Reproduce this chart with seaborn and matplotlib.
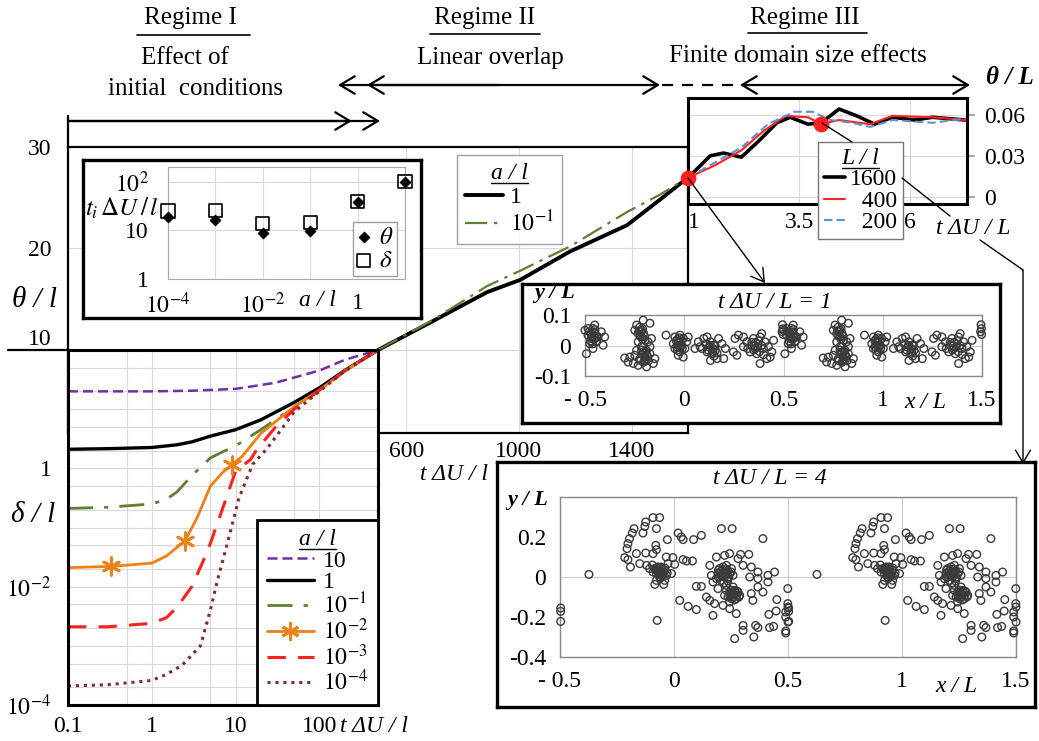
import matplotlib
matplotlib.use("Agg")
import matplotlib.pyplot as plt
from matplotlib.lines import Line2D
from matplotlib.patches import FancyArrowPatch
from matplotlib.ticker import FixedLocator, NullFormatter
import numpy as np
import seaborn as sns

W, H = 1039, 741

# ---------------------------------------------------------------------------
# Data
# ---------------------------------------------------------------------------

# delta/l against t dU/l (log-log panel), one curve per a/l
t_a10 = [0.1, 0.3, 1, 3, 10, 30, 100, 200, 500]
d_a10 = [20, 20, 20, 20.5, 22, 28, 45, 68, 100]
t_a1 = [0.1, 0.3, 1, 2, 3, 5, 10, 20, 50, 100, 200, 500]
d_a1 = [2.1, 2.15, 2.25, 2.5, 2.8, 3.5, 4.5, 6.6, 13, 23, 45, 100]
t_a1m = [0.1, 0.3, 1, 1.5, 2, 3, 5, 7, 10, 20, 50, 100, 200, 500]
d_a1m = [0.21, 0.22, 0.25, 0.3, 0.4, 0.75, 1.5, 1.9, 2.4, 4.5, 11, 21, 44, 100]
t_a2m = [0.1, 0.33, 1, 1.5, 2.5, 3.5, 5, 7, 9, 12, 20, 50, 100, 200, 500]
d_a2m = [0.021, 0.022, 0.025, 0.033, 0.06, 0.15, 0.5, 0.85, 1.15, 1.6, 3.9, 11, 21, 44, 100]
t_a2m_marks = [0.33, 2.5, 9]
d_a2m_marks = [0.022, 0.06, 1.15]
t_a3m = [0.1, 0.3, 1, 1.5, 2, 3, 4, 5, 7, 10, 15, 18, 30, 50, 100, 200, 500]
d_a3m = [0.0021, 0.0021, 0.0024, 0.003, 0.0045, 0.010, 0.025, 0.054, 0.21, 0.9,
         1.4, 2.1, 5, 10, 21, 44, 100]
t_a4m = [0.1, 0.3, 1, 1.5, 2.3, 3, 3.8, 5, 6, 8, 11, 16, 24, 50, 100, 200, 500]
d_a4m = [2.1e-4, 2.2e-4, 2.6e-4, 3.3e-4, 4.7e-4, 7e-4, 1e-3, 4e-3, 0.012, 0.055,
         0.32, 1.17, 2.2, 9, 20, 44, 100]

# theta/l against t dU/l (linear panel)
t_theta = [500, 685, 887, 1004, 1181, 1384, 1500, 1600]
theta_a1 = [10, 12.7, 15.7, 16.9, 19.7, 22.3, 24.8, 27]
theta_a1m = [10, 12.8, 16.3, 17.8, 20.2, 23.6, 25.3, 27]

# theta/L against t dU/L for three domain sizes L/l
t_L1600 = [1, 1.5, 1.8, 2.2, 2.6, 3.0, 3.3, 3.7, 4.0, 4.4, 4.8, 5.2, 5.6, 6.1, 6.5, 7.25]
th_L1600 = [0.014, 0.030, 0.032, 0.029, 0.041, 0.054, 0.058, 0.053, 0.054, 0.064,
            0.059, 0.053, 0.058, 0.056, 0.058, 0.056]
t_L400 = [1, 1.6, 2.2, 2.7, 3.2, 3.7, 4.0, 4.4, 5.1, 5.6, 6.5, 7.25]
th_L400 = [0.014, 0.023, 0.034, 0.048, 0.059, 0.058, 0.053, 0.056, 0.053, 0.059, 0.058, 0.056]
t_L200 = [1, 1.6, 2.2, 2.8, 3.4, 3.8, 4.2, 4.7, 5.1, 5.6, 6.5, 7.25]
th_L200 = [0.014, 0.025, 0.036, 0.053, 0.062, 0.062, 0.056, 0.054, 0.051, 0.056, 0.054, 0.057]
marked_t = [1.0, 4.0]
marked_th = [0.014, 0.053]

# transition times t_i dU/l against a/l
a_over_l = [1e-4, 1e-3, 1e-2, 1e-1, 1, 10]
ti_theta = [19, 16, 8.9, 9.8, 39, 100]
ti_delta = [25, 26, 14, 14.5, 39, 100]

# particle positions (x/L, y/L) in one period, at t dU/L = 1
snap1 = [
    # cluster near x = -0.45
    (-0.5, 0.05), (-0.485, 0.034), (-0.468, 0.023), (-0.46, 0.056), (-0.451, 0.039),
    (-0.443, 0.012), (-0.476, 0.006), (-0.493, -0.027), (-0.434, 0.028), (-0.418, 0.045),
    (-0.401, 0.028), (-0.409, 0.001), (-0.451, 0.067), (-0.485, 0.056), (-0.46, -0.01),
    (-0.47, 0.04), (-0.455, 0.02), (-0.44, 0.03),
    (-0.465, 0.03), (-0.455, 0.045), (-0.448, 0.025), (-0.472, 0.015), (-0.462, 0.005),
    (-0.45, 0.052), (-0.478, 0.045), (-0.44, 0.015),
    (0.495, 0.068), (0.497, 0.055), (0.493, 0.045), (0.498, 0.036),
    # cluster near x = -0.2
    (-0.207, 0.083), (-0.173, 0.073), (-0.24, 0.067), (-0.249, 0.05), (-0.232, 0.039),
    (-0.215, 0.028), (-0.198, 0.017), (-0.182, 0.012), (-0.165, 0.023), (-0.232, 0.012),
    (-0.215, -0.004), (-0.19, -0.016), (-0.173, -0.027), (-0.198, -0.038), (-0.224, -0.043),
    (-0.249, -0.032), (-0.274, -0.038), (-0.3, -0.041), (-0.283, -0.054), (-0.257, -0.059),
    (-0.232, -0.065), (-0.19, -0.07), (-0.156, -0.059), (-0.148, -0.043), (-0.173, -0.004),
    (-0.207, -0.021), (-0.24, -0.016), (-0.22, 0.045), (-0.2, -0.05), (-0.21, 0.055),
    (-0.19, -0.03),
    (-0.225, 0.06), (-0.215, 0.05), (-0.205, 0.04), (-0.222, 0.03), (-0.21, 0.02),
    (-0.228, 0.048), (-0.2, 0.03), (-0.21, -0.03), (-0.195, -0.045), (-0.185, -0.035),
    (-0.205, -0.055), (-0.22, -0.05), (-0.18, -0.05), (-0.195, -0.02), (-0.215, -0.015),
    (-0.092, 0.034),
    # cluster near x = 0
    (-0.047, 0.028), (-0.022, 0.034), (-0.005, 0.023), (-0.03, 0.012), (-0.013, 0.001),
    (-0.038, -0.004), (0.003, -0.01), (-0.022, -0.021), (-0.055, 0.006), (0.012, 0.012),
    (0.02, 0.028), (-0.005, -0.038), (-0.03, -0.032), (-0.047, -0.01), (-0.02, 0.0),
    (-0.035, 0.02),
    (-0.03, 0.0), (-0.015, 0.015), (-0.04, 0.015), (-0.025, 0.025), (-0.01, -0.01),
    (-0.035, -0.015), (-0.02, -0.005),
    # cluster near x = 0.14
    (0.054, -0.01), (0.08, -0.004), (0.098, 0.023), (0.115, 0.028), (0.132, 0.012),
    (0.148, 0.001), (0.157, -0.016), (0.14, -0.027), (0.115, -0.021), (0.09, -0.01),
    (0.165, -0.043), (0.132, -0.049), (0.173, 0.023), (0.19, 0.006), (0.207, -0.01),
    (0.199, -0.043), (0.071, 0.012), (0.125, -0.005), (0.145, -0.01),
    (0.13, 0.0), (0.145, -0.02), (0.155, 0.0), (0.12, -0.015), (0.165, -0.025),
    (0.15, -0.035), (0.11, 0.005),
    # cluster near x = 0.37
    (0.256, 0.023), (0.273, 0.034), (0.298, 0.028), (0.315, 0.012), (0.34, 0.001),
    (0.357, -0.01), (0.349, 0.023), (0.382, 0.028), (0.39, 0.039), (0.407, 0.012),
    (0.424, -0.004), (0.441, -0.021), (0.433, -0.038), (0.416, -0.043), (0.382, -0.059),
    (0.332, -0.021), (0.298, -0.004), (0.265, -0.032), (0.248, -0.021), (0.365, -0.027),
    (0.399, -0.01), (0.45, 0.017), (0.37, -0.005), (0.355, 0.0),
    (0.36, 0.01), (0.38, -0.02), (0.39, 0.0), (0.35, -0.015), (0.375, 0.015),
    (0.4, -0.03), (0.34, 0.01), (0.32, -0.01),
]

# particle positions (x/L, y/L) in one period, at t dU/L = 4
snap4 = [
    (-0.373, 0.013), (-0.497, -0.155), (-0.497, -0.172), (-0.497, -0.222),
    # arc and cluster near x = -0.06
    (-0.092, 0.297), (-0.063, 0.297), (-0.124, 0.275), (-0.128, 0.253), (-0.077, 0.242),
    (-0.175, 0.242), (-0.183, 0.22), (-0.195, 0.192), (-0.202, 0.167), (-0.206, 0.142),
    (-0.136, 0.22), (-0.029, 0.187), (-0.165, 0.117), (-0.124, 0.12), (-0.216, 0.097),
    (-0.202, 0.087), (-0.191, 0.05), (-0.08, 0.158), (-0.077, 0.137), (-0.092, 0.117),
    (-0.034, 0.1), (-0.005, 0.097), (0.003, 0.063), (-0.026, 0.067), (-0.15, 0.067),
    (-0.12, 0.058),
    (-0.063, 0.034), (-0.085, 0.042), (-0.07, 0.05), (-0.055, 0.025), (-0.041, 0.034),
    (-0.077, 0.017), (-0.048, 0.008), (-0.063, 0.0), (-0.092, 0.025), (-0.107, 0.042),
    (-0.033, 0.008), (-0.011, 0.017), (-0.041, -0.017), (-0.077, -0.017),
    (-0.055, 0.04), (-0.07, 0.03), (-0.06, 0.02), (-0.05, 0.015), (-0.065, 0.01),
    (-0.045, 0.025), (-0.08, 0.035), (-0.075, 0.045), (-0.058, 0.05), (-0.04, 0.045),
    (-0.03, 0.02), (-0.095, 0.06), (-0.06, -0.005),
    (-0.084, -0.037), (-0.045, -0.037), (-0.074, -0.217),
    # scattered middle particles
    (0.018, 0.22), (0.032, 0.2), (0.04, 0.187), (0.086, 0.187), (0.12, 0.208),
    (0.208, 0.242), (0.255, 0.242), (0.39, 0.192), (0.04, 0.087), (0.055, 0.08),
    (0.081, 0.08), (0.328, 0.113), (0.292, 0.113),
    # cluster near x = 0.23
    (0.157, 0.058), (0.186, 0.1), (0.222, 0.108), (0.244, 0.117), (0.281, 0.092),
    (0.303, 0.058), (0.339, 0.05), (0.368, 0.025), (0.412, 0.008), (0.441, 0.025),
    (0.332, 0.0), (0.368, -0.008), (0.164, 0.008), (0.171, -0.025), (0.193, -0.058),
    (0.142, -0.1), (0.157, -0.117), (0.178, -0.133), (0.215, -0.142), (0.244, -0.158),
    (0.273, -0.183), (0.171, -0.192), (0.098, -0.047), (0.12, -0.047), (0.025, -0.117),
    (0.062, -0.147), (0.098, -0.163), (0.339, -0.083), (0.346, -0.117), (0.368, -0.05),
    (0.39, -0.075), (0.412, -0.025), (0.451, -0.113), (0.416, -0.187), (0.448, -0.17),
    (0.303, -0.242), (0.303, -0.267), (0.358, -0.242), (0.368, -0.253), (0.419, -0.253),
    (0.437, -0.247), (0.35, -0.3), (0.266, -0.308), (0.49, -0.28), (0.49, -0.27),
    (0.499, -0.058), (0.499, -0.133), (0.5, -0.15), (0.49, -0.2), (0.5, -0.225),
    (0.49, -0.175),
    (0.2, 0.042), (0.215, 0.034), (0.23, 0.025), (0.244, 0.017), (0.208, 0.008),
    (0.222, 0.0), (0.237, -0.008), (0.193, 0.017), (0.252, 0.042), (0.259, 0.008),
    (0.215, 0.05), (0.23, 0.058), (0.208, -0.017), (0.186, -0.008),
    (0.215, 0.02), (0.225, 0.012), (0.235, 0.03), (0.205, 0.028), (0.228, 0.04),
    (0.212, 0.002), (0.24, 0.0), (0.25, 0.025), (0.2, 0.0), (0.218, -0.03),
    (0.235, -0.02), (0.195, 0.035),
    (0.23, -0.067), (0.244, -0.075), (0.259, -0.083), (0.274, -0.092), (0.237, -0.1),
    (0.252, -0.108), (0.266, -0.067), (0.281, -0.075), (0.222, -0.092), (0.259, -0.05),
    (0.274, -0.108), (0.244, -0.125), (0.288, -0.092), (0.23, -0.042),
    (0.25, -0.085), (0.265, -0.09), (0.255, -0.075), (0.27, -0.08), (0.245, -0.095),
    (0.26, -0.1), (0.275, -0.07), (0.285, -0.1), (0.25, -0.065), (0.265, -0.115),
]

PURPLE = "#7030a0"
OLIVE = "#5f7f32"
ORANGE = "#f07f15"
RED = "#ff2020"
BROWN = "#7b2d2d"
BLUE = "#5b8fd6"
GRID = "#d9d9d9"
PT = "#3a3a3a"

# ---------------------------------------------------------------------------
# Style
# ---------------------------------------------------------------------------
sns.set_theme(style="white")
plt.rcParams["font.family"] = ["Liberation Serif", "DejaVu Serif"]
plt.rcParams["mathtext.fontset"] = "stix"
plt.rcParams["axes.edgecolor"] = "black"
plt.rcParams["text.color"] = "black"
plt.rcParams["xtick.color"] = "black"
plt.rcParams["ytick.color"] = "black"
plt.rcParams["xtick.labelcolor"] = "black"
plt.rcParams["ytick.labelcolor"] = "black"

FS = 17

fig = plt.figure(figsize=(W / 100, H / 100), dpi=100)
fig.patch.set_facecolor("white")


def rect(l, t, r, b):
    return [l / W, 1 - b / H, (r - l) / W, (b - t) / H]


def fx(px):
    return px / W


def fy(py):
    return 1 - py / H


def sline(ax, x, y, color, lw, ls="-"):
    sns.lineplot(x=x, y=y, ax=ax, color=color, linewidth=lw, sort=False, estimator=None)
    line = ax.lines[-1]
    line.set_linestyle(ls)
    return line


def boxed(ax, lw=2.2, color="black"):
    for s in ax.spines.values():
        s.set_visible(True)
        s.set_linewidth(lw)
        s.set_color(color)


def frame_axes(l, t, r, b, z):
    a = fig.add_axes(rect(l, t, r, b), zorder=z)
    a.set_facecolor("white")
    a.set_xticks([])
    a.set_yticks([])
    boxed(a, 2.4)
    return a


def ftext(x, y, s, size=FS, **kw):
    kw.setdefault("ha", "center")
    kw.setdefault("va", "center")
    kw.setdefault("zorder", 25)
    return fig.text(fx(x), fy(y), s, fontsize=size, **kw)


def fline(xs, ys, **kw):
    kw.setdefault("color", "black")
    kw.setdefault("lw", 1.5)
    fig.add_artist(Line2D([fx(v) for v in xs], [fy(v) for v in ys],
                          transform=fig.transFigure, zorder=20, **kw))


def farrow(p0, p1, style="->", lw=1.6, ms=14):
    fig.add_artist(FancyArrowPatch(
        (fx(p0[0]), fy(p0[1])), (fx(p1[0]), fy(p1[1])),
        transform=fig.transFigure, arrowstyle=f"{style},head_length=0.75,head_width=0.45",
        mutation_scale=ms, lw=lw, color="black", zorder=20, shrinkA=0, shrinkB=0))


# ---------------------------------------------------------------------------
# theta/l linear panel (background)
# ---------------------------------------------------------------------------
axT = fig.add_axes(rect(68, 147, 688, 433), zorder=1)
axT.set_facecolor("white")
lT1 = sline(axT, t_theta, theta_a1, "black", 2.8)
lT2 = sline(axT, t_theta, theta_a1m, OLIVE, 1.6, (0, (10, 3, 1.5, 3)))
axT.set_xlim(-600, 1600)
axT.set_ylim(1.82, 30)
axT.set_xticks([600, 1000, 1400])
axT.set_yticks([10, 20, 30])
axT.grid(True, color=GRID, lw=0.8)
axT.tick_params(length=0, labelsize=FS)
axT.tick_params(axis="y", pad=12)
axT.tick_params(axis="x", pad=6)
axT.get_yticklabels()[0].set_va("bottom")
boxed(axT, 1.6)
legT = axT.legend([lT1, lT2], ["1", r"$10^{-1}$"], loc="upper left",
                  bbox_to_anchor=(fx(457), fy(155)), bbox_transform=fig.transFigure,
                  borderaxespad=0, title="a / l", fontsize=FS, title_fontsize=FS,
                  frameon=True, fancybox=False, edgecolor="#888888", handlelength=1.6,
                  handletextpad=0.3, labelspacing=0.1, borderpad=0.35)
legT.get_title().set_fontstyle("italic")
legT.get_frame().set_linewidth(1.0)

# ---------------------------------------------------------------------------
# delta/l log-log panel
# ---------------------------------------------------------------------------
axD = fig.add_axes(rect(68, 350, 378, 705), zorder=3)
axD.set_facecolor("white")
axD.set_xscale("log")
axD.set_yscale("log")
l10 = sline(axD, t_a10, d_a10, PURPLE, 1.8, (0, (4, 2)))
l1 = sline(axD, t_a1, d_a1, "black", 2.4)
l1m = sline(axD, t_a1m, d_a1m, OLIVE, 2.0, (0, (9, 4, 1.5, 4)))
l2m = sline(axD, t_a2m, d_a2m, ORANGE, 2.0)
sns.scatterplot(x=t_a2m_marks, y=d_a2m_marks, ax=axD, marker=(6, 2, 0), s=160,
                color=ORANGE, linewidth=2.0, zorder=5)
l3m = sline(axD, t_a3m, d_a3m, RED, 2.2, (0, (6, 4)))
l4m = sline(axD, t_a4m, d_a4m, BROWN, 2.2, (0, (1, 1.6)))
axD.set_xlim(0.1, 500)
axD.set_ylim(1e-4, 100)
axD.set_xticks([0.1, 1, 10, 100])
axD.set_xticklabels(["0.1", "1", "10", "100"])
axD.set_yticks([1e-4, 1e-2, 1])
axD.set_yticklabels([r"$10^{-4}$", r"$10^{-2}$", "1"])
axD.xaxis.set_minor_locator(FixedLocator([0.5, 5, 50]))
axD.yaxis.set_minor_locator(FixedLocator([2e-4, 5e-4, 1e-3, 2e-3, 5e-3, 2e-2, 5e-2, 0.1,
                                          0.2, 0.5, 2, 5, 10, 20, 50]))
axD.xaxis.set_minor_formatter(NullFormatter())
axD.yaxis.set_minor_formatter(NullFormatter())
axD.grid(True, which="both", color=GRID, lw=0.8)
axD.tick_params(which="both", length=0, labelsize=FS)
axD.tick_params(axis="y", pad=12)
axD.tick_params(axis="x", pad=8)
boxed(axD, 2.2)
orange_proxy = Line2D([], [], color=ORANGE, lw=2.0, marker=(6, 2, 0), ms=13, mew=2.0)
legD = axD.legend([l10, l1, l1m, orange_proxy, l3m, l4m],
                  ["10", "1", r"$10^{-1}$", r"$10^{-2}$", r"$10^{-3}$", r"$10^{-4}$"],
                  loc="lower right", bbox_to_anchor=(1, 0), borderaxespad=0,
                  title="a / l", fontsize=FS, title_fontsize=FS, frameon=True,
                  fancybox=False, edgecolor="black", handlelength=2.0,
                  handletextpad=0.4, labelspacing=0.0, borderpad=0.4)
legD.get_title().set_fontstyle("italic")
legD.get_frame().set_linewidth(2.0)
legD.get_frame().set_alpha(1)

# ---------------------------------------------------------------------------
# transition-time inset (top left)
# ---------------------------------------------------------------------------
frame_axes(83, 160, 421, 318, 4)
axN = fig.add_axes(rect(168, 167, 405, 279), zorder=5)
axN.patch.set_alpha(0)
axN.set_xscale("log")
axN.set_yscale("log")
sns.scatterplot(x=a_over_l, y=ti_delta, ax=axN, marker="s", s=90, facecolors="none",
                edgecolor="black", linewidth=1.2, clip_on=False, zorder=3)
sns.scatterplot(x=a_over_l, y=ti_theta, ax=axN, marker="D", s=32, color="black",
                edgecolor="black", clip_on=False, zorder=4)
axN.set_xlim(1e-4, 10)
axN.set_ylim(1, 200)
axN.set_xticks([1e-4, 1e-3, 1e-2, 1e-1, 1, 10])
axN.set_xticklabels([r"$10^{-4}$", "", r"$10^{-2}$", "", "1", ""])
axN.set_yticks([1, 10, 100])
axN.set_yticklabels(["1", "10", r"$10^{2}$"])
axN.xaxis.set_minor_locator(FixedLocator([]))
axN.yaxis.set_minor_locator(FixedLocator([]))
axN.grid(True, color=GRID, lw=0.8)
axN.tick_params(length=4, color="#999999", labelsize=FS)
axN.tick_params(axis="y", pad=10)
axN.tick_params(axis="x", pad=6)
boxed(axN, 0.8, "#aaaaaa")
legN = axN.legend(handles=[axN.collections[1], axN.collections[0]],
                  labels=[r"$\theta$", r"$\delta$"], loc="lower right",
                  bbox_to_anchor=(fx(397), fy(276)), bbox_transform=fig.transFigure,
                  borderaxespad=0, fontsize=FS + 1, frameon=True, fancybox=False,
                  edgecolor="#888888", handlelength=0.6, handletextpad=0.3,
                  labelspacing=0.05, borderpad=0.15)
legN.get_frame().set_linewidth(1.0)
ftext(122, 208, r"$t_i\,\Delta U\,/\,l$", FS + 1, zorder=30)
ftext(317, 301, "a / l", FS, fontstyle="italic", zorder=30)

# ---------------------------------------------------------------------------
# theta/L inset (top right)
# ---------------------------------------------------------------------------
axI = fig.add_axes(rect(688, 98, 967, 204), zorder=4)
axI.set_facecolor("white")
lL1 = sline(axI, t_L1600, th_L1600, "black", 2.6)
lL2 = sline(axI, t_L400, th_L400, RED, 1.5)
lL3 = sline(axI, t_L200, th_L200, BLUE, 1.5, (0, (4, 2)))
sns.scatterplot(x=marked_t, y=marked_th, ax=axI, color=RED, s=110, edgecolor=RED,
                clip_on=False, zorder=6)
axI.set_xlim(1, 7.28)
axI.set_ylim(-0.005, 0.072)
axI.set_xticks([1, 3.5, 6])
axI.set_xticklabels(["1", "3.5", "6"])
axI.get_xticklabels()[0].set_ha("left")
axI.set_yticks([0, 0.03, 0.06])
axI.set_yticklabels(["0", "0.03", "0.06"])
axI.yaxis.tick_right()
axI.grid(True, color=GRID, lw=0.8)
axI.tick_params(axis="y", length=6, color="#999999", pad=6, labelsize=FS)
axI.tick_params(axis="x", length=0, pad=6, labelsize=FS)
boxed(axI, 2.2)
legI = axI.legend([lL1, lL2, lL3], ["1600", "  400", "  200"], loc="upper left",
                  bbox_to_anchor=(fx(818), fy(142)), bbox_transform=fig.transFigure,
                  borderaxespad=0, title="L / l", fontsize=FS, title_fontsize=FS,
                  frameon=True, fancybox=False, edgecolor="#777777", handlelength=0.9,
                  handletextpad=0.2, labelspacing=0.0, borderpad=0.25)
legI.get_title().set_fontstyle("italic")
legI.get_frame().set_linewidth(1.0)
legI.get_frame().set_alpha(1)


# ---------------------------------------------------------------------------
# particle snapshots (periodic domain: each particle also drawn one period to the right)
# ---------------------------------------------------------------------------
def snapshot(points, frame, inner, ylim, yticks, yticklabels):
    frame_axes(*frame, 6)
    ax = fig.add_axes(rect(*inner), zorder=7)
    ax.patch.set_alpha(0)
    px = np.array([p[0] for p in points])
    py = np.array([p[1] for p in points])
    sns.scatterplot(x=np.concatenate([px, px + 1.0]), y=np.concatenate([py, py]), ax=ax,
                    marker="o", s=30, facecolors="none", edgecolor=PT, linewidth=1.0,
                    clip_on=False, zorder=3)
    ax.set_xlim(-0.5, 1.5)
    ax.set_ylim(*ylim)
    ax.set_xticks([-0.5, 0, 0.5, 1, 1.5])
    ax.set_xticklabels(["- 0.5", "0", "0.5", "1", "1.5"])
    ax.set_yticks(yticks)
    ax.set_yticklabels(yticklabels)
    ax.grid(True, axis="x", color="#cccccc", lw=0.8)
    ax.axhline(0, color="#cccccc", lw=0.8, zorder=0)
    ax.tick_params(length=5, color="#888888", labelsize=FS, pad=5)
    boxed(ax, 1.0, "#888888")
    return ax


snapshot(snap1, (522, 284, 1000, 423), (585, 315, 982, 376), (-0.1, 0.1),
         [-0.1, 0, 0.1], ["-0.1", "0", "0.1"])
ftext(775, 303, "t ΔU / L = 1", FS, fontstyle="italic", zorder=30)
ftext(555, 293, "y / L", FS - 1, fontstyle="italic", fontweight="bold", zorder=30)
ftext(925, 402, "x / L", FS, fontstyle="italic", zorder=30)

snapshot(snap4, (497, 462, 1035, 707), (560, 497, 1016, 657), (-0.4, 0.4),
         [-0.4, -0.2, 0, 0.2], ["-0.4", "-0.2", "0", "0.2"])
ftext(770, 478, "t ΔU / L = 4", FS, fontstyle="italic", zorder=30)
ftext(528, 500, "y / L", FS - 1, fontstyle="italic", fontweight="bold", zorder=30)
ftext(956, 686, "x / L", FS, fontstyle="italic", zorder=30)

# ---------------------------------------------------------------------------
# axis labels and regime annotations
# ---------------------------------------------------------------------------
ftext(35, 300, "θ / l", FS + 4, fontstyle="italic")
ftext(33, 515, "δ / l", FS + 4, fontstyle="italic")
ftext(454, 474, "t ΔU / l", FS, fontstyle="italic")
ftext(374, 727, "t ΔU / l", FS, fontstyle="italic")
ftext(973, 228, "t ΔU / L", FS, fontstyle="italic")
ftext(1010, 78, "θ / L", FS + 1, fontstyle="italic", fontweight="bold")

ftext(190, 18, "Regime I", FS + 1)
fline([137, 250], [35, 35], lw=1.2)
ftext(185, 58, "Effect of", FS + 1)
ftext(196, 89, "initial  conditions", FS + 1)
ftext(485, 18, "Regime II", FS + 1)
fline([430, 540], [34, 34], lw=1.2)
ftext(490, 58, "Linear overlap", FS + 1)
ftext(805, 18, "Regime III", FS + 1)
fline([748, 867], [33, 33], lw=1.2)
ftext(798, 56, "Finite domain size effects", FS + 1)

# regime arrows
fline([68, 68], [116, 147], lw=1.6)
farrow((68, 121), (380, 121))
farrow((68, 121), (352, 121))
farrow((338, 85), (660, 85), "<->")
farrow((500, 85), (367, 85))
fline([662, 738], [85, 85], lw=1.6, ls=(0, (5, 4)))
farrow((740, 85), (970, 85), "<->")

# connectors on the right
fline([8, 68], [350, 350], lw=1.6)
farrow((688, 178), (765, 283), lw=1.0, ms=12)
fline([822, 852], [123, 142], lw=1.0)
fline([902, 950], [178, 216], lw=1.0)
fline([980, 1023], [240, 270], lw=1.0)
farrow((1023, 270), (1023, 464), lw=1.0, ms=12)

# underline the legend titles
fig.canvas.draw()
renderer = fig.canvas.get_renderer()
inv = fig.transFigure.inverted()
for leg in (legT, legD, legI):
    bb = leg.get_title().get_window_extent(renderer)
    (x0, y0), (x1, _) = inv.transform([(bb.x0, bb.y0 + 1), (bb.x1, bb.y0 + 1)])
    fig.add_artist(Line2D([x0, x1], [y0, y0], transform=fig.transFigure,
                          color="black", lw=1.0, zorder=30))

fig.savefig("out.png", dpi=100, facecolor="white")
plt.close(fig)
